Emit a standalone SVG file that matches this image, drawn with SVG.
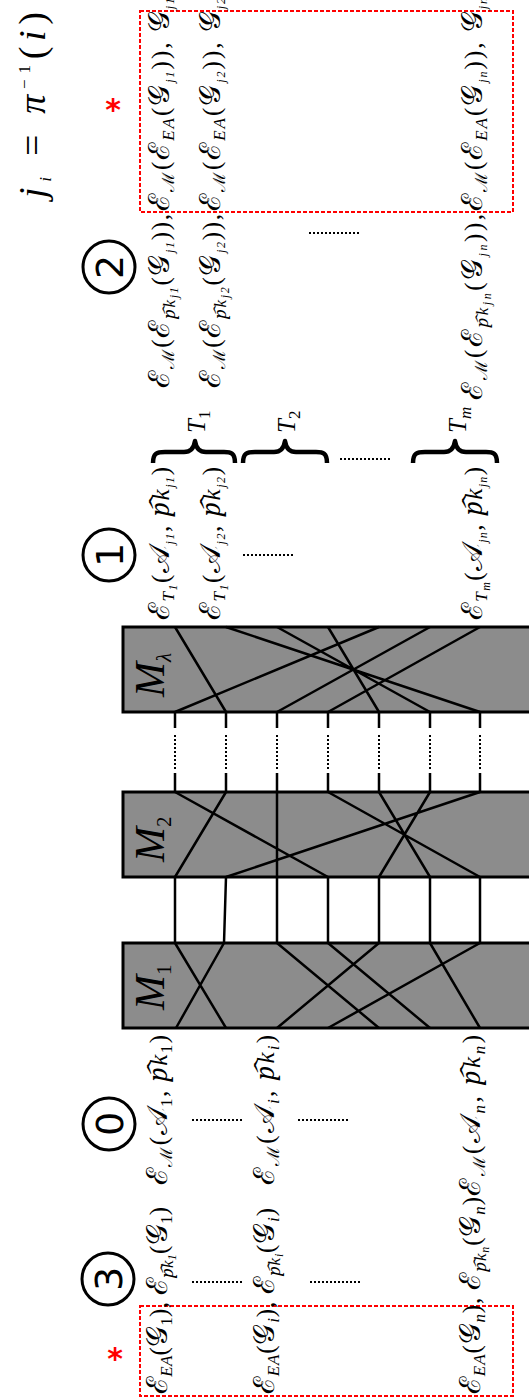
<svg xmlns="http://www.w3.org/2000/svg" width="529" height="1398" viewBox="0 0 529 1398">
  <style>
    .m { font-family: "Liberation Serif", "DejaVu Serif", serif; font-size: 25px; fill: #000; }
    .it { font-style: italic; }
    .sc { font-size: 29px; }
    .s { font-size: 17px; }
    .ss { font-size: 12px; }
    .big { font-size: 38px; }
    .lbl { font-size: 42px; font-style: italic; }
    .lsub { font-size: 21px; }
    .num { font-family: "DejaVu Sans", sans-serif; font-size: 38px; text-anchor: middle; fill: #000; }
    .ring { fill: none; stroke: #000; stroke-width: 3; }
    .star { font-family: "DejaVu Sans", sans-serif; font-weight: bold; font-size: 30px; fill: #f00; text-anchor: middle; }
    .sel { fill: none; stroke: #f00; stroke-width: 2; stroke-dasharray: 4 2; }
    .box { fill: #8c8c8c; stroke: #000; stroke-width: 3; }
    .w { stroke: #000; stroke-width: 2.5; fill: none; }
    .dots { stroke: #000; stroke-width: 2; stroke-dasharray: 2 2; fill: none; }
    .brace { fill: none; stroke: #000; stroke-width: 4.5; stroke-linejoin: round; }
  </style>

  <!-- permutation note -->
  <g id="perm-note">
    <text class="m big" transform="translate(45,198) rotate(-90)" textLength="186" lengthAdjust="spacing"><tspan class="it">j</tspan><tspan class="s it" baseline-shift="-6">i</tspan> = <tspan class="it">π</tspan><tspan class="s" baseline-shift="15">−1</tspan>(<tspan class="it">i</tspan>)</text>
  </g>

  <!-- selection markers -->
  <g id="sel-top">
    <rect class="sel" x="140" y="11" width="373" height="201"/>
    <text class="star" x="113" y="120">*</text>
  </g>
  <g id="sel-bottom">
    <rect class="sel" x="140" y="1306" width="373" height="90"/>
    <text class="star" x="115" y="1369">*</text>
  </g>

  <!-- step markers -->
  <g id="step-2">
    <circle class="ring" cx="109" cy="267" r="26"/>
    <text class="num" transform="translate(109,267) rotate(-90)" y="14">2</text>
  </g>
  <g id="step-1">
    <circle class="ring" cx="109" cy="555" r="26"/>
    <text class="num" transform="translate(109,555) rotate(-90)" y="14">1</text>
  </g>
  <g id="step-0">
    <circle class="ring" cx="109" cy="1124" r="26"/>
    <text class="num" transform="translate(109,1124) rotate(-90)" y="14">0</text>
  </g>
  <g id="step-3">
    <circle class="ring" cx="108" cy="1279" r="26"/>
    <text class="num" transform="translate(108,1279) rotate(-90)" y="14">3</text>
  </g>

  <!-- step 2 outputs -->
  <g id="out-j1">
    <text class="m" transform="translate(169,388) rotate(-90)" textLength="174" lengthAdjust="spacing"><tspan class="sc">ℰ</tspan><tspan class="s" baseline-shift="-5">ℳ</tspan>(<tspan class="sc">ℰ</tspan><tspan class="s it" baseline-shift="-6">p&#x1DCD;k<tspan class="ss" baseline-shift="-3">j1</tspan></tspan>(<tspan class="sc">𝒢</tspan><tspan class="ss it" baseline-shift="-5">j1</tspan>)),</text>
    <text class="m" transform="translate(169,211) rotate(-90)" textLength="213" lengthAdjust="spacing"><tspan class="sc">ℰ</tspan><tspan class="s" baseline-shift="-5">ℳ</tspan>(<tspan class="sc">ℰ</tspan><tspan class="s it" baseline-shift="-5">EA</tspan>(<tspan class="sc">𝒢</tspan><tspan class="ss it" baseline-shift="-5">j1</tspan>)), <tspan class="sc">𝒢</tspan><tspan class="ss it" baseline-shift="-5">j1</tspan></text>
  </g>
  <g id="out-j2">
    <text class="m" transform="translate(220,388) rotate(-90)" textLength="174" lengthAdjust="spacing"><tspan class="sc">ℰ</tspan><tspan class="s" baseline-shift="-5">ℳ</tspan>(<tspan class="sc">ℰ</tspan><tspan class="s it" baseline-shift="-6">p&#x1DCD;k<tspan class="ss" baseline-shift="-3">j2</tspan></tspan>(<tspan class="sc">𝒢</tspan><tspan class="ss it" baseline-shift="-5">j2</tspan>)),</text>
    <text class="m" transform="translate(220,211) rotate(-90)" textLength="213" lengthAdjust="spacing"><tspan class="sc">ℰ</tspan><tspan class="s" baseline-shift="-5">ℳ</tspan>(<tspan class="sc">ℰ</tspan><tspan class="s it" baseline-shift="-5">EA</tspan>(<tspan class="sc">𝒢</tspan><tspan class="ss it" baseline-shift="-5">j2</tspan>)), <tspan class="sc">𝒢</tspan><tspan class="ss it" baseline-shift="-5">j2</tspan></text>
  </g>
  <g id="out-jn">
    <text class="m" transform="translate(482,400) rotate(-90)" textLength="186" lengthAdjust="spacing"><tspan class="sc">ℰ</tspan><tspan class="s" baseline-shift="-5">ℳ</tspan>(<tspan class="sc">ℰ</tspan><tspan class="s it" baseline-shift="-6">p&#x1DCD;k<tspan class="ss" baseline-shift="-3">jn</tspan></tspan>(<tspan class="sc">𝒢</tspan><tspan class="ss it" baseline-shift="-5">jn</tspan>)),</text>
    <text class="m" transform="translate(482,211) rotate(-90)" textLength="213" lengthAdjust="spacing"><tspan class="sc">ℰ</tspan><tspan class="s" baseline-shift="-5">ℳ</tspan>(<tspan class="sc">ℰ</tspan><tspan class="s it" baseline-shift="-5">EA</tspan>(<tspan class="sc">𝒢</tspan><tspan class="ss it" baseline-shift="-5">jn</tspan>)), <tspan class="sc">𝒢</tspan><tspan class="ss it" baseline-shift="-5">jn</tspan></text>
  </g>

  <!-- trustee groups -->
  <g id="group-T1">
    <path class="brace" d="M153,463 C153,453 157,452 165,452 L184,452 C191,452 194,448 195,441 C196,448 199,452 206,452 L224,452 C231,452 235,453 235,463"/>
    <text class="m" transform="translate(205,433) rotate(-90)"><tspan class="it">T</tspan><tspan class="s" baseline-shift="-5">1</tspan></text>
  </g>
  <g id="group-T2">
    <path class="brace" d="M243,463 C243,453 247,452 255,452 L274,452 C281,452 284,448 285,441 C286,448 289,452 296,452 L316,452 C323,452 327,453 327,463"/>
    <text class="m" transform="translate(295,433) rotate(-90)"><tspan class="it">T</tspan><tspan class="s" baseline-shift="-5">2</tspan></text>
  </g>
  <g id="group-Tm">
    <path class="brace" d="M413,463 C413,453 417,452 425,452 L444,452 C451,452 454,448 455,441 C456,448 459,452 466,452 L486,452 C493,452 497,453 497,463"/>
    <text class="m" transform="translate(466,433) rotate(-90)"><tspan class="it">T</tspan><tspan class="s it" baseline-shift="-5">m</tspan></text>
  </g>

  <!-- step 1 ciphertexts -->
  <g id="ct-j1">
    <text class="m" transform="translate(169,620) rotate(-90)" textLength="153" lengthAdjust="spacing"><tspan class="sc">ℰ</tspan><tspan class="s it" baseline-shift="-5">T<tspan class="ss" baseline-shift="-3">1</tspan></tspan>(<tspan class="sc">𝒜</tspan><tspan class="ss it" baseline-shift="-5">j1</tspan>, <tspan class="it">p&#x1DCD;k</tspan><tspan class="ss it" baseline-shift="-5">j1</tspan>)</text>
  </g>
  <g id="ct-j2">
    <text class="m" transform="translate(220,620) rotate(-90)" textLength="153" lengthAdjust="spacing"><tspan class="sc">ℰ</tspan><tspan class="s it" baseline-shift="-5">T<tspan class="ss" baseline-shift="-3">1</tspan></tspan>(<tspan class="sc">𝒜</tspan><tspan class="ss it" baseline-shift="-5">j2</tspan>, <tspan class="it">p&#x1DCD;k</tspan><tspan class="ss it" baseline-shift="-5">j2</tspan>)</text>
  </g>
  <g id="ct-jn">
    <text class="m" transform="translate(482,620) rotate(-90)" textLength="153" lengthAdjust="spacing"><tspan class="sc">ℰ</tspan><tspan class="s it" baseline-shift="-5">T<tspan class="ss" baseline-shift="-3">m</tspan></tspan>(<tspan class="sc">𝒜</tspan><tspan class="ss it" baseline-shift="-5">jn</tspan>, <tspan class="it">p&#x1DCD;k</tspan><tspan class="ss it" baseline-shift="-5">jn</tspan>)</text>
  </g>

  <!-- mix servers -->
  <g id="mix-lambda">
    <rect class="box" x="123" y="627" width="420" height="85"/>
    <text class="m lbl" transform="translate(164,697) rotate(-90)">M<tspan class="lsub" baseline-shift="-7">λ</tspan></text>
  </g>
  <g id="mix-2">
    <rect class="box" x="123" y="792" width="420" height="85"/>
    <text class="m lbl" transform="translate(164,862) rotate(-90)">M<tspan class="lsub" style="font-style:normal" baseline-shift="-7">2</tspan></text>
  </g>
  <g id="mix-1">
    <rect class="box" x="123" y="943" width="420" height="85"/>
    <text class="m lbl" transform="translate(164,1010) rotate(-90)">M<tspan class="lsub" style="font-style:normal" baseline-shift="-7">1</tspan></text>
  </g>

  <!-- step 0 inputs -->
  <g id="in-1">
    <text class="m" transform="translate(167,1394) rotate(-90)" textLength="187" lengthAdjust="spacing"><tspan class="sc">ℰ</tspan><tspan class="s it" baseline-shift="-5">EA</tspan>(<tspan class="sc">𝒢</tspan><tspan class="s" baseline-shift="-5">1</tspan>), <tspan class="sc">ℰ</tspan><tspan class="s it" baseline-shift="-6">p&#x1DCD;k<tspan class="ss" baseline-shift="-3">1</tspan></tspan>(<tspan class="sc">𝒢</tspan><tspan class="s" baseline-shift="-5">1</tspan>)</text>
    <text class="m" transform="translate(167,1185) rotate(-90)" textLength="150" lengthAdjust="spacing"><tspan class="sc">ℰ</tspan><tspan class="s" baseline-shift="-5">ℳ</tspan>(<tspan class="sc">𝒜</tspan><tspan class="s" baseline-shift="-5">1</tspan>, <tspan class="it">p&#x1DCD;k</tspan><tspan class="s" baseline-shift="-5">1</tspan>)</text>
  </g>
  <g id="in-i">
    <text class="m" transform="translate(274,1394) rotate(-90)" textLength="186" lengthAdjust="spacing"><tspan class="sc">ℰ</tspan><tspan class="s it" baseline-shift="-5">EA</tspan>(<tspan class="sc">𝒢</tspan><tspan class="s it" baseline-shift="-5">i</tspan>), <tspan class="sc">ℰ</tspan><tspan class="s it" baseline-shift="-6">p&#x1DCD;k<tspan class="ss" baseline-shift="-3">i</tspan></tspan>(<tspan class="sc">𝒢</tspan><tspan class="s it" baseline-shift="-5">i</tspan>)</text>
    <text class="m" transform="translate(274,1185) rotate(-90)" textLength="150" lengthAdjust="spacing"><tspan class="sc">ℰ</tspan><tspan class="s" baseline-shift="-5">ℳ</tspan>(<tspan class="sc">𝒜</tspan><tspan class="s it" baseline-shift="-5">i</tspan>, <tspan class="it">p&#x1DCD;k</tspan><tspan class="s it" baseline-shift="-5">i</tspan>)</text>
  </g>
  <g id="in-n">
    <text class="m" transform="translate(480,1394) rotate(-90)" textLength="197" lengthAdjust="spacing"><tspan class="sc">ℰ</tspan><tspan class="s it" baseline-shift="-5">EA</tspan>(<tspan class="sc">𝒢</tspan><tspan class="s it" baseline-shift="-5">n</tspan>), <tspan class="sc">ℰ</tspan><tspan class="s it" baseline-shift="-6">p&#x1DCD;k<tspan class="ss" baseline-shift="-3">n</tspan></tspan>(<tspan class="sc">𝒢</tspan><tspan class="s it" baseline-shift="-5">n</tspan>)</text>
    <text class="m" transform="translate(480,1196) rotate(-90)" textLength="161" lengthAdjust="spacing"><tspan class="sc">ℰ</tspan><tspan class="s" baseline-shift="-5">ℳ</tspan>(<tspan class="sc">𝒜</tspan><tspan class="s it" baseline-shift="-5">n</tspan>, <tspan class="it">p&#x1DCD;k</tspan><tspan class="s it" baseline-shift="-5">n</tspan>)</text>
  </g>

  <!-- ellipses -->
  <g id="ellipses">
    <path class="dots" d="M309,233 H361 M340,459 H392 M243,555 H293 M192,1120 H243 M298,1120 H349 M192,1282 H243 M310,1282 H360"/>
  </g>

  <!-- wires and permutations -->
  <g id="connectors">
    <!-- inside M_lambda -->
    <path class="w" d="M175,627 L226,712 M226,627 L480,712 M277,627 L430,712 M328,627 L379,712 M379,627 L175,712 M430,627 L277,712 M480,627 L328,712"/>
    <!-- between M_2 and M_lambda (elided servers) -->
    <path class="w" d="M175,712 V728 M226,712 V728 M277,712 V728 M328,712 V728 M379,712 V728 M430,712 V728 M480,712 V728 M175,773 V792 M226,773 V792 M277,773 V792 M328,773 V792 M379,773 V792 M430,773 V792 M480,773 V792"/>
    <path class="dots" stroke-dasharray="1.5 1.5" d="M175,735 V770 M226,735 V770 M277,735 V770 M328,735 V770 M379,735 V770 M430,735 V770 M480,735 V770"/>
    <!-- inside M_2 -->
    <path class="w" d="M175,792 L328,877 M226,792 L175,877 M277,792 L277,877 M328,792 L480,877 M379,792 L430,877 M430,792 L379,877 M480,792 L226,877"/>
    <!-- between M_1 and M_2 -->
    <path class="w" d="M175,877 V943 M226,877 L224,943 M277,877 V943 M328,877 V943 M379,877 V943 M430,877 V943 M480,877 V943"/>
    <!-- inside M_1 -->
    <path class="w" d="M175,943 L226,1028 M224,943 L176,1028 M277,943 L379,1028 M328,943 L430,1028 M379,943 L277,1028 M430,943 L480,1028 M480,943 L328,1028"/>
  </g>
</svg>
